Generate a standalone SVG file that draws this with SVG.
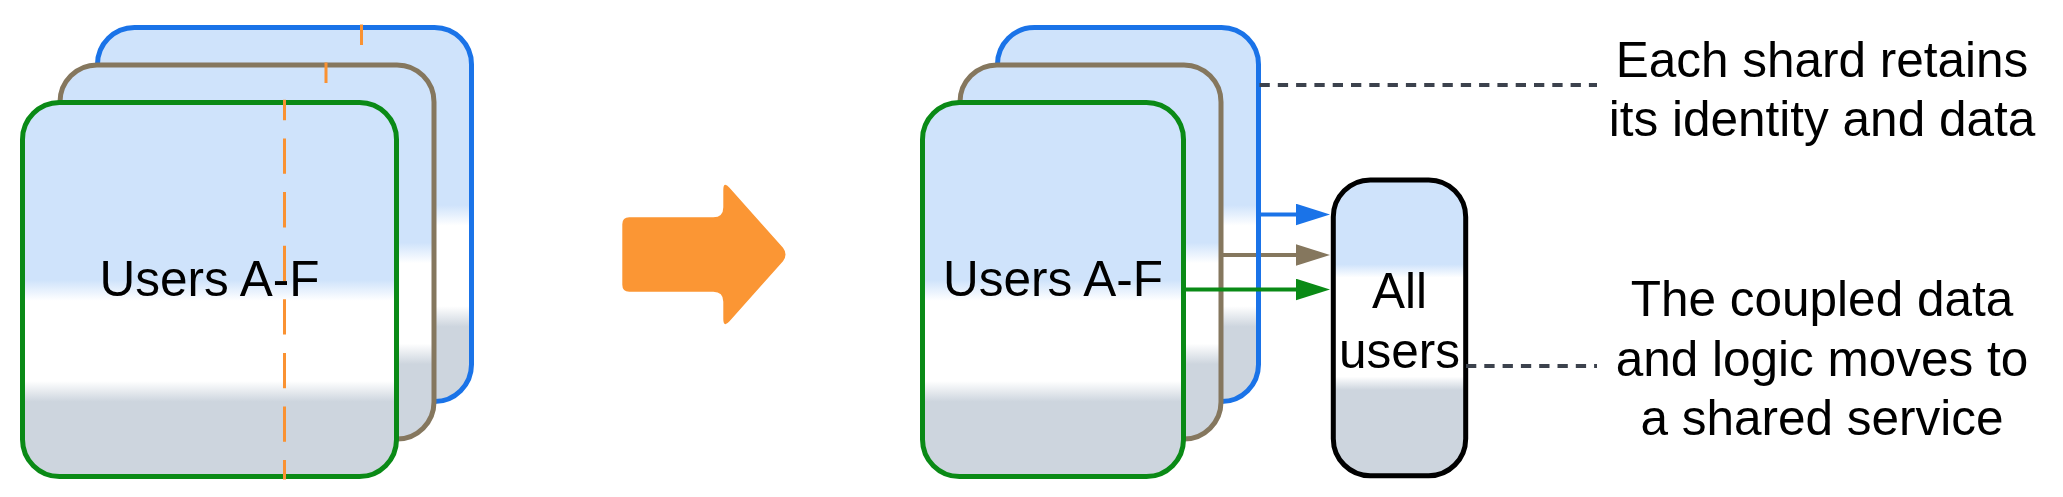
<svg xmlns="http://www.w3.org/2000/svg" width="2063" height="497" viewBox="0 0 2063 497">
<defs>
<linearGradient id="gShard" x1="0" y1="0" x2="0" y2="1">
<stop offset="0" stop-color="#cfe3fb"/>
<stop offset="0.475" stop-color="#cfe3fb"/>
<stop offset="0.53" stop-color="#ffffff"/>
<stop offset="0.745" stop-color="#ffffff"/>
<stop offset="0.8" stop-color="#cdd5de"/>
<stop offset="1" stop-color="#cdd5de"/>
</linearGradient>
<linearGradient id="gAll" x1="0" y1="0" x2="0" y2="1">
<stop offset="0" stop-color="#cfe3fb"/>
<stop offset="0.285" stop-color="#cfe3fb"/>
<stop offset="0.33" stop-color="#ffffff"/>
<stop offset="0.665" stop-color="#ffffff"/>
<stop offset="0.71" stop-color="#cdd5de"/>
<stop offset="1" stop-color="#cdd5de"/>
</linearGradient>
<marker id="aBlue" markerUnits="userSpaceOnUse" markerWidth="36" markerHeight="24" refX="2" refY="10.8" orient="auto"><path d="M0,0 L34,10.8 L0,21.6 Z" fill="#1a73e8"/></marker>
<marker id="aBrown" markerUnits="userSpaceOnUse" markerWidth="36" markerHeight="24" refX="2" refY="10.8" orient="auto"><path d="M0,0 L34,10.8 L0,21.6 Z" fill="#85775e"/></marker>
<marker id="aGreen" markerUnits="userSpaceOnUse" markerWidth="36" markerHeight="24" refX="2" refY="10.8" orient="auto"><path d="M0,0 L34,10.8 L0,21.6 Z" fill="#0a8a16"/></marker>
</defs>
<style>
.box{fill:url(#gShard);stroke-width:5}
.all{fill:url(#gAll);stroke:#000;stroke-width:5}
.blue{stroke:#1a73e8}
.brown{stroke:#85775e}
.green{stroke:#0a8a16}
.cut{stroke:#fa9232;stroke-width:3;stroke-dasharray:35.3 18.3;stroke-dashoffset:14.8;fill:none}
.lbl{font-family:"Liberation Sans",Arial,sans-serif;font-size:49.5px;fill:#000;text-anchor:middle}
.note{stroke:#3c424d;stroke-width:4;stroke-dasharray:10.3 8;fill:none}
.conn{fill:none;stroke-width:4}
</style>
<rect width="2063" height="497" fill="#ffffff"/>

<g id="before-shards">
<g id="before-shard-blue">
<rect class="box blue" x="97.5" y="27.5" width="374" height="374" rx="37"/>
<line class="cut" x1="361.5" y1="24.5" x2="361.5" y2="404"/>
</g>
<g id="before-shard-brown">
<rect class="box brown" x="60" y="65" width="374" height="374" rx="37"/>
<line class="cut" x1="326" y1="62.5" x2="326" y2="441.5"/>
</g>
<g id="before-shard-green">
<rect class="box green" x="22.5" y="102.5" width="374" height="374" rx="37"/>
<line class="cut" x1="284.5" y1="99.7" x2="284.5" y2="479.5"/>
<text class="lbl" x="209.5" y="296">Users A-F</text>
</g>
</g>

<g id="transition-arrow">
<path d="M629.3,217.3 H713.3 Q723.3,217.3 723.3,207.3 V190 Q723.3,181 729.5,187.8 L783,247.8 Q788,254.5 783,261.2 L729.5,321.2 Q723.3,328 723.3,319 V301.7 Q723.3,291.7 713.3,291.7 H629.3 Q622.3,291.7 622.3,284.7 V224.3 Q622.3,217.3 629.3,217.3 Z" fill="#fb9634"/>
</g>

<g id="after-shards">
<g id="after-shard-blue">
<rect class="box blue" x="997.5" y="27.5" width="261" height="374" rx="37"/>
</g>
<g id="after-shard-brown">
<rect class="box brown" x="960" y="65" width="261" height="374" rx="37"/>
</g>
<g id="after-shard-green">
<rect class="box green" x="922.5" y="102.5" width="261" height="374" rx="37"/>
<text class="lbl" x="1053" y="296">Users A-F</text>
</g>
</g>

<g id="all-users">
<rect class="all" x="1333.3" y="180" width="132.4" height="295.7" rx="37"/>
<text class="lbl" x="1399.5" y="308.3">All</text>
<text class="lbl" x="1399.5" y="368.3">users</text>
</g>

<g id="note-identity">
<text class="lbl" x="1822" y="76.7">Each shard retains</text>
<text class="lbl" x="1822" y="136">its identity and data</text>
</g>
<g id="note-shared">
<text class="lbl" x="1822" y="316">The coupled data</text>
<text class="lbl" x="1822" y="376">and logic moves to</text>
<text class="lbl" x="1822" y="435">a shared service</text>
</g>

<g id="connectors">
<path class="conn blue" d="M1258.5,214.5 H1298" marker-end="url(#aBlue)"/>
<path class="conn brown" d="M1221,255 H1256 M1261,255 H1298" marker-end="url(#aBrown)"/>
<path class="conn green" d="M1183.5,289.5 H1298" marker-end="url(#aGreen)"/>
<line class="note" x1="1259.5" y1="85" x2="1597" y2="85"/>
<line class="note" x1="1466" y1="366" x2="1597" y2="366"/>
</g>
</svg>
